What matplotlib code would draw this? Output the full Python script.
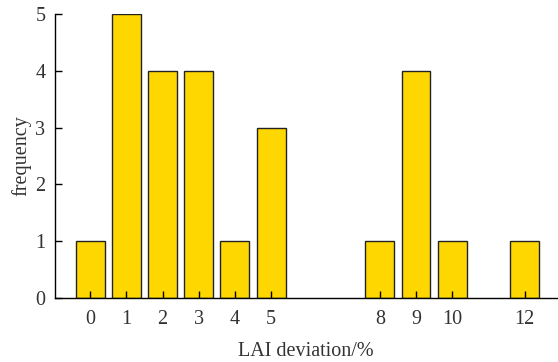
import matplotlib.pyplot as plt

# LAI deviation histogram data
deviation = [0, 1, 2, 3, 4, 5, 8, 9, 10, 12]
frequency = [1, 5, 4, 4, 1, 3, 1, 4, 1, 1]
xtick_labels = [str(d) for d in deviation]

plt.rcParams['font.family'] = ['Liberation Serif', 'DejaVu Serif']
plt.rcParams['font.size'] = 14.5

fig = plt.figure(figsize=(5.58, 3.62), dpi=100)
ax = fig.add_axes([0.0986, 0.1768, 0.9, 0.7845])

ax.bar(deviation, frequency, width=0.8, color='#FFD700',
       edgecolor='#222222', linewidth=1.0)

ax.set_xlim(-0.97, 12.9)
ax.set_ylim(0, 5)
ax.set_xticks(deviation)
ax.set_xticklabels(xtick_labels)
ax.set_yticks(range(6))

for side in ('top', 'right'):
    ax.spines[side].set_visible(False)
for side in ('left', 'bottom'):
    ax.spines[side].set_linewidth(1.0)

ax.tick_params(direction='in', length=5, width=1, colors='black',
               labelcolor='#333333')
ax.tick_params(axis='x', pad=9)
ax.tick_params(axis='y', pad=7)

ax.set_xlabel('LAI deviation/%', color='#333333', labelpad=9)
ax.set_ylabel('frequency', color='#333333', labelpad=3)

fig.savefig('out.png', dpi=100)
